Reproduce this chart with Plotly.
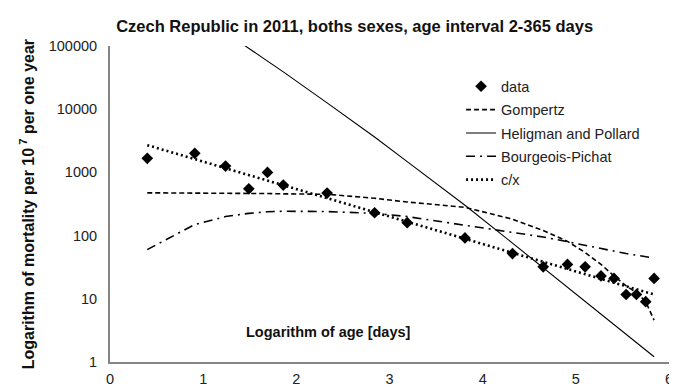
import plotly.graph_objects as go

# log of age (x) at each observation
log_age = [0.40, 0.91, 1.24, 1.49, 1.69, 1.86, 2.33, 2.84, 3.19, 3.81,
           4.32, 4.65, 4.91, 5.10, 5.27, 5.41, 5.54, 5.65, 5.75, 5.84]

data_vals = [1670, 2000, 1260, 550, 1000, 630, 470, 230, 160, 92,
             52, 32, 35, 32, 23, 21, 11.7, 11.7, 9, 21]

gompertz = [475, 475, 472, 468, 463, 458, 450, 390, 340, 280,
            182, 120, 81, 54, 35, 23, 16, 12.6, 9, 4.6]

heligman_pollard = [1150000, 355000, 166000, 93000, 57500, 38900, 12600, 3630, 1480, 302,
                    76, 31, 15.1, 9.1, 5.7, 3.9, 2.7, 2.0, 1.55, 1.21]

bourgeois_pichat = [60, 150, 200, 225, 238, 243, 240, 225, 200, 145,
                    113, 95, 80, 70, 63, 57, 52, 49, 46, 44]

c_over_x = [2700, 1620, 1166, 908, 744, 627, 392, 235, 166, 89,
            54, 38.5, 29.7, 24.6, 20.7, 18.0, 15.8, 14.2, 12.8, 11.7]

y_tick_vals = [1, 10, 100, 1000, 10000, 100000]
y_tick_text = ["1", "10", "100", "1000", "10000", "100000"]
x_tick_vals = [0, 1, 2, 3, 4, 5, 6]

FONT = "Liberation Sans, Arial, sans-serif"

fig = go.Figure()
fig.add_trace(go.Scatter(x=log_age, y=data_vals, mode="markers", name="data",
                         marker=dict(symbol="diamond", size=9, color="black"),
                         legendgroup="a"))
fig.add_trace(go.Scatter(x=log_age, y=gompertz, mode="lines", name="Gompertz",
                         line=dict(color="black", width=1.6, dash="5px,3px"),
                         legendgroup="b"))
fig.add_trace(go.Scatter(x=log_age, y=heligman_pollard, mode="lines", name="Heligman and Pollard",
                         line=dict(color="black", width=1.1),
                         legendgroup="c"))
fig.add_trace(go.Scatter(x=log_age, y=bourgeois_pichat, mode="lines", name="Bourgeois-Pichat",
                         line=dict(color="black", width=1.6, dash="9px,5px,2px,5px"),
                         legendgroup="d"))
fig.add_trace(go.Scatter(x=log_age, y=c_over_x, mode="lines", name="c/x",
                         line=dict(color="black", width=2.6, dash="2px,3px"),
                         legendgroup="e"))

fig.update_layout(
    width=677, height=391,
    margin=dict(l=102, r=15, t=38, b=21),
    paper_bgcolor="white", plot_bgcolor="white",
    font=dict(family=FONT, color="#222222"),
    title=dict(text="<b>Czech Republic in 2011, boths sexes, age interval 2-365 days</b>",
               x=0.512, xanchor="center", xref="container",
               y=1 - 18 / 391, yanchor="middle", yref="container",
               font=dict(size=16.5, family=FONT, color="#111111")),
    showlegend=True,
    legend=dict(x=0.628, y=0.923, xanchor="left", yanchor="top",
                bgcolor="rgba(0,0,0,0)", font=dict(size=14.5, family=FONT, color="#222222"),
                traceorder="grouped", tracegroupgap=1.5, itemwidth=30),
    xaxis=dict(range=[0, 6], tickvals=x_tick_vals, showgrid=False, zeroline=False,
               showline=True, linecolor="#858585", linewidth=2, ticks="",
               ticklabelstandoff=3,
               tickfont=dict(size=14.5, family=FONT, color="#222222")),
    yaxis=dict(type="log", range=[0, 5], tickvals=y_tick_vals, ticktext=y_tick_text,
               showgrid=False, zeroline=False, showline=True, linecolor="#858585",
               linewidth=2, ticks="", ticklabelstandoff=8,
               tickfont=dict(size=14.5, family=FONT, color="#222222")),
    annotations=[
        dict(text="<b>Logarithm of mortality per 10<sup> 7</sup> per one year</b>",
             xref="paper", yref="paper", x=-0.148, y=0.5, textangle=-90,
             showarrow=False, xanchor="center", yanchor="middle",
             font=dict(size=16, family=FONT, color="#111111")),
        dict(text="<b>Logarithm of age [days]</b>",
             xref="paper", yref="paper", x=(321 - 101.7) / 560.3, y=(370 - 338) / 332,
             showarrow=False, xanchor="center", yanchor="middle",
             font=dict(size=14.5, family=FONT, color="#111111")),
    ],
)

fig.write_html("out.html")
